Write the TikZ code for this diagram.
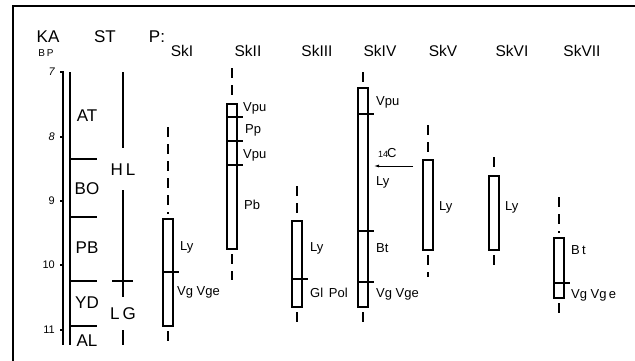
\documentclass[tikz,border=0pt]{standalone}
\usepackage{fontspec}
\setsansfont{Liberation Sans}
\usepackage{tikz}
\usetikzlibrary{arrows.meta}
\usetikzlibrary{positioning}

\begin{document}
\begin{tikzpicture}[x=1pt,y=-1pt]
  \tikzset{ln/.style = {line width=1.2pt}}
  \tikzset{dashln/.style = {line width=1.2pt, dash pattern=on 10pt off 7pt}}
  \tikzset{lbl/.style = {font=\sffamily\fontsize{13}{13}\selectfont, anchor=west, inner sep=0pt}}
  \tikzset{head/.style = {font=\sffamily\fontsize{15.5}{15.5}\selectfont, inner sep=0pt}}
  \tikzset{stage/.style = {font=\sffamily\fontsize{17}{17}\selectfont, inner sep=0pt}}
  \tikzset{tick/.style = {font=\sffamily\fontsize{11}{11}\selectfont, anchor=east, inner sep=0pt}}
  \tikzset{edge/.style = {-{Latex[length=5pt,width=3pt]}, line width=0.8pt}}

  \useasboundingbox (0,0) rectangle (635,360);
  % frame
  \draw[line width=1.3pt] (13,362) |- (637,6);

  % headers
  \node[stage] (ka) at (48,37) {KA};
  \node[font=\sffamily\fontsize{10}{10}\selectfont] (bp) at (46,53) {B\,P};
  \node[stage] (st) at (105,37) {ST};
  \node[stage] (p) at (157,37) {P:};
  \foreach \name/\x/\txt in {h1/182/SkI, h2/248/SkII, h3/317/SkIII, h4/380/SkIV,
                            h5/443/SkV, h6/512/SkVI, h7/582/SkVII}
    \node[head] (\name) at (\x,51) {\txt};

  % age scale
  \draw[ln] (60,72) -- (63,72) -- (63,345);
  \foreach \a/\y/\sh in {7/72/\itshape, 8/137/\itshape, 9/201/, 10/265/, 11/330/}
  {
    \draw[ln] (60,\y) -- (63,\y);
    \node[tick] (t\a) at (55,\y) {\sh\a};
  }

  % stages
  \draw[ln] (70,72) -- (70,345);
  \foreach \y in {159, 217, 281, 326}
    \draw[ln] (70,\y) -- (97,\y);
  \foreach \name/\y in {AT/116, BO/189, PB/248, YD/303, AL/341}
    \node[stage] (\name) at (87,\y) {\name};

  % HL / LG
  \draw[ln] (123,72) -- (123,148);
  \node[stage] (hl) at (123,170) {H\,L};
  \draw[ln] (123,190) -- (123,297);
  \draw[ln] (112,281) -- (133,281);
  \node[stage] (lg) at (123,314) {L\,G};
  \draw[ln] (123,330) -- (123,345);

  % cores: x / dash top / box top / box bottom / dash bottom
  \foreach \x/\a/\b/\c/\d in {168/127/219/326/343, 232/68/104/249/280, 297/186/221/307/325,
                              363/72/88/307/327, 428/125/160/250/277, 494/157/176/250/272,
                              559/197/238/298/318}
  {
    \draw[dashln] (\x,\a) -- (\x,\b-5);
    \draw[ln] (\x-5,\b) rectangle (\x+5,\c);
    \draw[dashln] (\x,\c+5) -- (\x,\d);
  }

  % zone boundaries in cores
  \foreach \x/\y in {168/272, 232/117, 232/141, 232/165, 297/279,
                     363/114, 363/231, 363/282, 559/283}
    \draw[ln] (\x-5,\y) -- (\x+11,\y);

  % zone labels
  \node[lbl] (l1a) at (180,247) {Ly};
  \node[lbl] (l1b) at (177,292) {Vg Vge};
  \node[lbl] (l2a) at (243,108) {Vpu};
  \node[lbl] (l2b) at (245,130) {Pp};
  \node[lbl] (l2c) at (243,155) {Vpu};
  \node[lbl] (l2d) at (244,205) {Pb};
  \node[lbl] (l3a) at (310,248) {Ly};
  \node[lbl] (l3b) at (310,293) {Gl\, Pol};
  \node[lbl] (l4a) at (376,102) {Vpu};
  \node[lbl] (l4b) at (376,182) {Ly};
  \node[lbl] (l4c) at (376,248) {Bt};
  \node[lbl] (l4d) at (376,294) {Vg Vge};
  \node[lbl] (l5a) at (439,207) {Ly};
  \node[lbl] (l6a) at (505,207) {Ly};
  \node[lbl] (l7a) at (571,250) {B\,t};
  \node[lbl] (l7b) at (571,295) {Vg Vg\,e};

  % 14C date
  \coordinate (cfrom) at (413,166);
  \coordinate (cto) at (374,166);
  \path[edge] (cfrom) edge (cto);
  \node[lbl] (c14) at (378,153) {{\fontsize{9}{9}\selectfont 14}\kern-1pt C};
\end{tikzpicture}
\end{document}
